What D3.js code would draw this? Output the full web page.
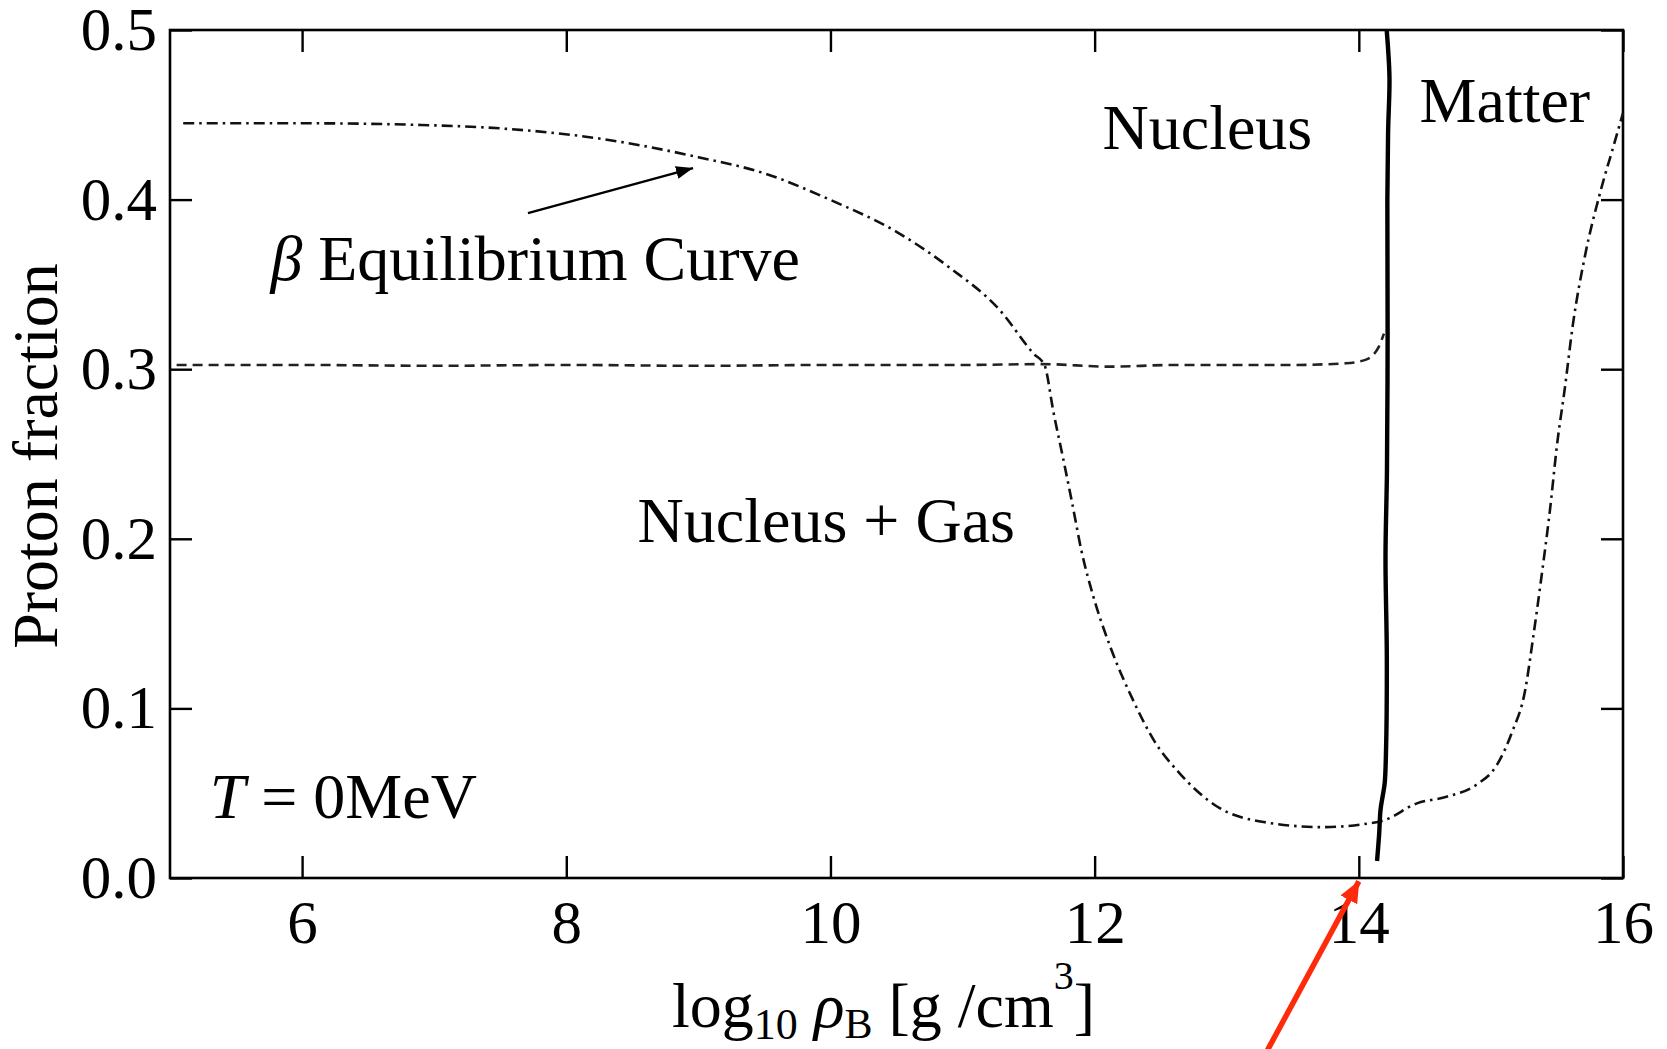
<!DOCTYPE html>
<html>
<head>
<meta charset="utf-8">
<script src="https://cdn.jsdelivr.net/npm/d3@7"></script>
<style>
  body { margin: 0; background: #fff; }
  svg { display: block; font-family: "Liberation Serif", "Times New Roman", serif; }
</style>
</head>
<body>
<div class="vis-container"></div>
<script>
// axis ticks
var xTicks = [6, 8, 10, 12, 14, 16];
var yTicks = [0, 0.1, 0.2, 0.3, 0.4, 0.5];

// beta equilibrium curve (dash-dot)
var betaX = [5.10, 6.0, 6.9, 7.5, 8.25, 9.0, 9.5, 10.0, 10.5, 10.9, 11.28, 11.54, 11.62,
  11.69, 11.76, 11.83, 11.90, 11.99, 12.12, 12.29, 12.45, 12.64, 12.93, 13.28, 13.73,
  14.06, 14.19, 14.44, 14.67, 14.89, 15.04, 15.16, 15.26, 15.32, 15.38, 15.45, 15.50,
  15.56, 15.62, 15.71, 15.83, 15.93, 16.0];
var betaY = [0.445, 0.445, 0.444, 0.442, 0.436, 0.425, 0.4155, 0.3998, 0.381, 0.360, 0.335,
  0.309, 0.3025, 0.274, 0.248, 0.221, 0.193, 0.166, 0.136, 0.105, 0.081, 0.062, 0.042,
  0.033, 0.030, 0.032, 0.034, 0.044, 0.048, 0.055, 0.066, 0.086, 0.111, 0.142, 0.176,
  0.219, 0.255, 0.289, 0.326, 0.366, 0.405, 0.432, 0.451];

// nucleus / nucleus + gas boundary (dashed)
var gasX = [5.05, 6.0, 7.0, 8.0, 9.0, 10.0, 11.0, 11.6, 12.12, 12.6, 13.0, 13.5, 13.9,
  14.05, 14.11, 14.15, 14.19];
var gasY = [0.3025, 0.3025, 0.302, 0.3025, 0.302, 0.3025, 0.3025, 0.3030, 0.3015, 0.3025,
  0.3025, 0.3025, 0.3035, 0.3055, 0.3085, 0.3130, 0.3210];

// nucleus / matter boundary (solid)
var matterX = [14.138, 14.154, 14.164, 14.180, 14.196, 14.206, 14.212, 14.202, 14.213,
  14.218, 14.216, 14.222, 14.232, 14.211];
var matterY = [0.010, 0.026, 0.040, 0.048, 0.056, 0.075, 0.130, 0.189, 0.240, 0.320,
  0.400, 0.441, 0.472, 0.500];

var width = 1667, height = 1049;
var margin = {top: 30, right: 44, bottom: 171, left: 170};
var w = width - margin.left - margin.right,
  h = height - margin.top - margin.bottom;

var svg = d3.select(".vis-container").append("svg")
  .attr("width", width)
  .attr("height", height);

var defs = svg.append("defs");
defs.append("marker")
  .attr("id", "headBlack")
  .attr("markerUnits", "userSpaceOnUse")
  .attr("viewBox", "0 0 17 13")
  .attr("refX", 17).attr("refY", 6.5)
  .attr("markerWidth", 17).attr("markerHeight", 13)
  .attr("orient", "auto")
  .append("path").attr("d", "M0,0L17,6.5L0,13Z").attr("fill", "#000");
defs.append("marker")
  .attr("id", "headRed")
  .attr("markerUnits", "userSpaceOnUse")
  .attr("viewBox", "0 0 22 19")
  .attr("refX", 21).attr("refY", 9.5)
  .attr("markerWidth", 22).attr("markerHeight", 19)
  .attr("orient", "auto")
  .append("path").attr("d", "M0,0L22,9.5L0,19Z").attr("fill", "#ff2a0a");

var g = svg.append("g")
  .attr("transform", "translate(" + margin.left + "," + margin.top + ")");

var x = d3.scaleLinear().domain([5, 16]).range([0, w]);
var y = d3.scaleLinear().domain([0, 0.5]).range([h, 0]);

// axes, ticks pointing in
function styleAxis(sel) {
  sel.select(".domain").remove();
  sel.selectAll(".tick line").attr("stroke", "#000").attr("stroke-width", 2.4);
  sel.selectAll(".tick text").attr("fill", "#000");
}

g.append("g")
  .attr("transform", "translate(0," + h + ")")
  .call(d3.axisBottom(x).tickValues(xTicks).tickSize(-22).tickPadding(22)
    .tickFormat(d3.format("d")))
  .attr("font-family", null).attr("font-size", 61)
  .call(styleAxis);

g.append("g")
  .call(d3.axisLeft(y).tickValues(yTicks).tickSize(-22).tickPadding(13)
    .tickFormat(d3.format(".1f")))
  .attr("font-family", null).attr("font-size", 61)
  .call(styleAxis);

g.append("g")
  .call(d3.axisTop(x).tickValues(xTicks).tickSize(-22).tickFormat(""))
  .call(styleAxis);

g.append("g")
  .attr("transform", "translate(" + w + ",0)")
  .call(d3.axisRight(y).tickValues(yTicks).tickSize(-22).tickFormat(""))
  .call(styleAxis);

g.append("rect")
  .attr("width", w).attr("height", h)
  .attr("fill", "none").attr("stroke", "#000").attr("stroke-width", 2.6);

// curves
function pts(xs, ys) {
  return xs.map(function(d, i) { return [d, ys[i]]; });
}

var smooth = d3.line()
  .x(function(d) { return x(d[0]); })
  .y(function(d) { return y(d[1]); })
  .curve(d3.curveMonotoneX);

var rough = d3.line()
  .x(function(d) { return x(d[0]); })
  .y(function(d) { return y(d[1]); })
  .curve(d3.curveCatmullRom);

g.append("path")
  .attr("d", smooth(pts(gasX, gasY)))
  .attr("fill", "none").attr("stroke", "#222").attr("stroke-width", 2.6)
  .attr("stroke-dasharray", "10,6");

g.append("path")
  .attr("d", smooth(pts(betaX, betaY)))
  .attr("fill", "none").attr("stroke", "#111").attr("stroke-width", 2.6)
  .attr("stroke-dasharray", "11,5,2.5,5");

g.append("path")
  .attr("d", rough(pts(matterX, matterY)))
  .attr("fill", "none").attr("stroke", "#000").attr("stroke-width", 4.4);

// arrow onto the beta curve
g.append("line")
  .attr("x1", x(7.71)).attr("y1", y(0.392))
  .attr("x2", x(8.96)).attr("y2", y(0.4186))
  .attr("stroke", "#000").attr("stroke-width", 2.4)
  .attr("marker-end", "url(#headBlack)");

// region labels
var labels = g.append("g").attr("font-size", 64).attr("fill", "#000");

labels.append("text").attr("x", x(12.06)).attr("y", y(0.43)).text("Nucleus");
labels.append("text").attr("x", x(14.46)).attr("y", y(0.446)).text("Matter");
labels.append("text").attr("x", x(8.54)).attr("y", y(0.198)).text("Nucleus + Gas");

var beta = labels.append("text").attr("x", x(5.76)).attr("y", y(0.3526));
beta.append("tspan").attr("font-style", "italic").text("β");
beta.append("tspan").text(" Equilibrium Curve");

var temp = labels.append("text").attr("x", x(5.30)).attr("y", y(0.0354));
temp.append("tspan").attr("font-style", "italic").text("T");
temp.append("tspan").text(" = 0MeV");

// axis titles
var xl = svg.append("text")
  .attr("x", margin.left + x(8.8)).attr("y", margin.top + h + 149)
  .attr("font-size", 64);
xl.append("tspan").text("log");
xl.append("tspan").attr("font-size", 44).attr("dy", 12).text("10");
xl.append("tspan").attr("dy", -12).text(" ");
xl.append("tspan").attr("font-style", "italic").text("ρ");
xl.append("tspan").attr("font-size", 42).attr("dy", 11).text("B");
xl.append("tspan").attr("dy", -11).text(" [g /cm");
xl.append("tspan").attr("font-size", 40).attr("dy", -38).text("3");
xl.append("tspan").attr("dy", 38).text("]");

svg.append("text")
  .attr("transform", "translate(57," + (margin.top + h / 2 + 2) + ") rotate(-90)")
  .attr("text-anchor", "middle")
  .attr("font-size", 64)
  .text("Proton fraction");

// red pointer at the 14 tick
g.append("line")
  .attr("x1", x(13.18)).attr("y1", y(-0.12))
  .attr("x2", x(14.0)).attr("y2", y(-0.002))
  .attr("stroke", "#ff2a0a").attr("stroke-width", 5.5)
  .attr("marker-end", "url(#headRed)");
</script>
</body>
</html>
